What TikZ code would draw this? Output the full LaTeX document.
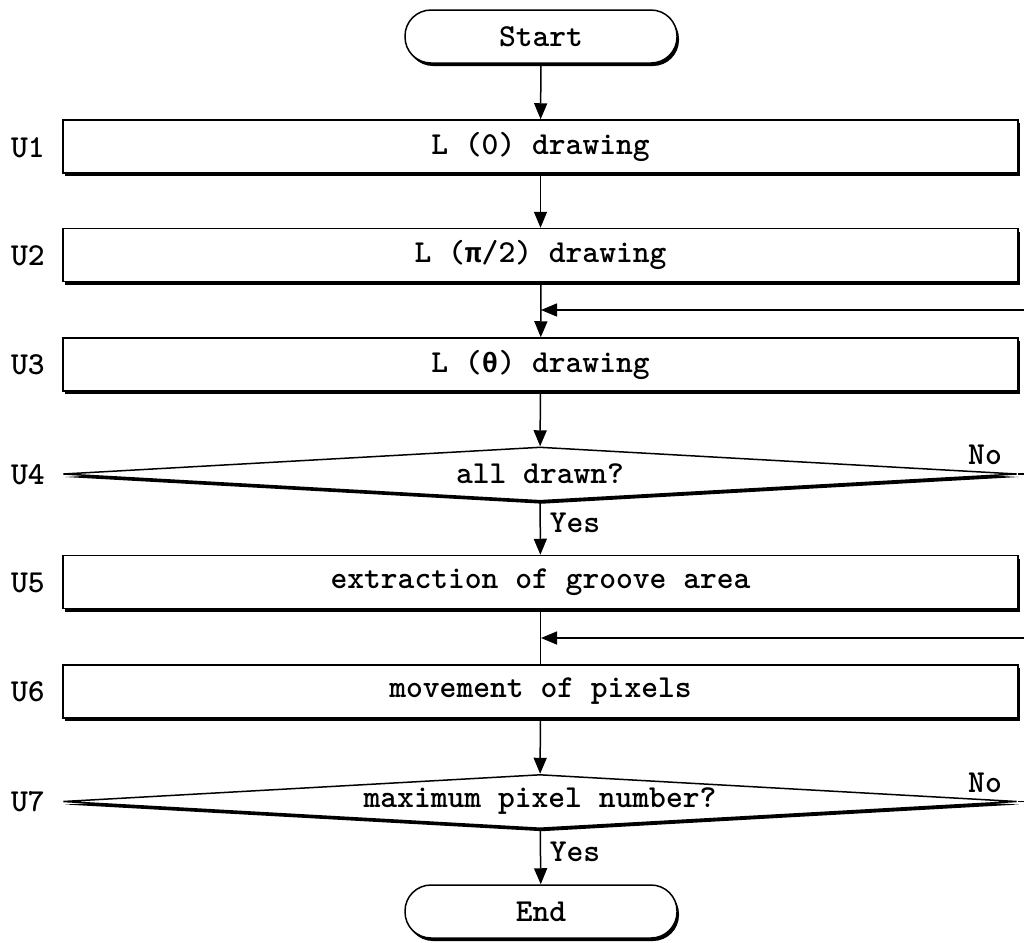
\documentclass[tikz,border=0pt]{standalone}
\usepackage{fontspec}
\newfontfamily\flowfont{lmmonolt10-bold}[Extension=.otf]
\newfontfamily\greekmono{Liberation Mono Bold}
\newcommand\grk[1]{{\greekmono\fontsize{14}{16}\selectfont #1}}
\usetikzlibrary{arrows.meta,shapes.geometric,shadows}

\begin{document}
\begin{tikzpicture}[x=0.5pt,y=-0.5pt,->,>={Triangle[length=8pt,width=6.5pt]},
  line width=0.75pt,font=\flowfont\fontsize{16}{18}\selectfont,
  box shadow/.style={drop shadow={shadow xshift=1pt,shadow yshift=-1.5pt,fill=black,opacity=1}},
  proc node/.style={rectangle,draw,fill=white,minimum width=477.5pt,minimum height=26.5pt,inner sep=0pt,box shadow},
  term node/.style={rectangle,rounded corners=13pt,draw,fill=white,minimum width=136pt,minimum height=26.5pt,inner sep=0pt,box shadow},
  dec node/.style={diamond,aspect=17.7,draw,fill=white,minimum width=477pt,minimum height=27pt,inner sep=0pt,box shadow},
  tag label/.style={inner sep=1pt}]

  \useasboundingbox (0,0) rectangle (1024,943);

  \node[term node] (0) at (541,36.5)  {Start};
  \node[proc node] (1) at (540.5,146.5) {L (0) drawing};
  \node[proc node] (2) at (540.5,255)   {L (\grk{π}/2) drawing};
  \node[proc node] (3) at (540.5,364.5) {L (\grk{θ}) drawing};
  \node[dec node]  (4) at (540,474)     {all drawn?};
  \node[proc node] (5) at (540.5,582)   {extraction of groove area};
  \node[proc node] (6) at (540.5,691.5) {movement of pixels};
  \node[dec node]  (7) at (540,801.5)   {maximum pixel number?};
  \node[term node] (8) at (541,911.5)   {End};

  % step tags
  \node[tag label] (u1) at (28,148) {U1};
  \node[tag label] (u2) at (28,256) {U2};
  \node[tag label] (u3) at (28,365) {U3};
  \node[tag label] (u4) at (28,475) {U4};
  \node[tag label] (u5) at (28,583) {U5};
  \node[tag label] (u6) at (28,692) {U6};
  \node[tag label] (u7) at (28,802) {U7};

  \node[tag label] (y4) at (575,523) {Yes};
  \node[tag label] (y7) at (575,852) {Yes};
  \node[tag label] (n4) at (985,455) {No};
  \node[tag label] (n7) at (985,783) {No};

  % loop ends (cut at the right border)
  \coordinate (j3) at (541,310);
  \coordinate (r3) at (1024,310);
  \coordinate (j6) at (541,638);
  \coordinate (r6) at (1024,638);
  \coordinate (e4) at (1024,474);
  \coordinate (e7) at (1024,801.5);

  \path
    (0) edge (1)
    (1) edge (2)
    (2) edge[-] (j3)
    (j3) edge (3)
    (r3) edge (j3)
    (3) edge (4)
    (4) edge (5)
    (5) edge[-] (6)
    (r6) edge (j6)
    (6) edge (7)
    (7) edge (8)
    % back edges
    (4) edge[-] (e4)
    (7) edge[-] (e7);

\end{tikzpicture}
\end{document}
